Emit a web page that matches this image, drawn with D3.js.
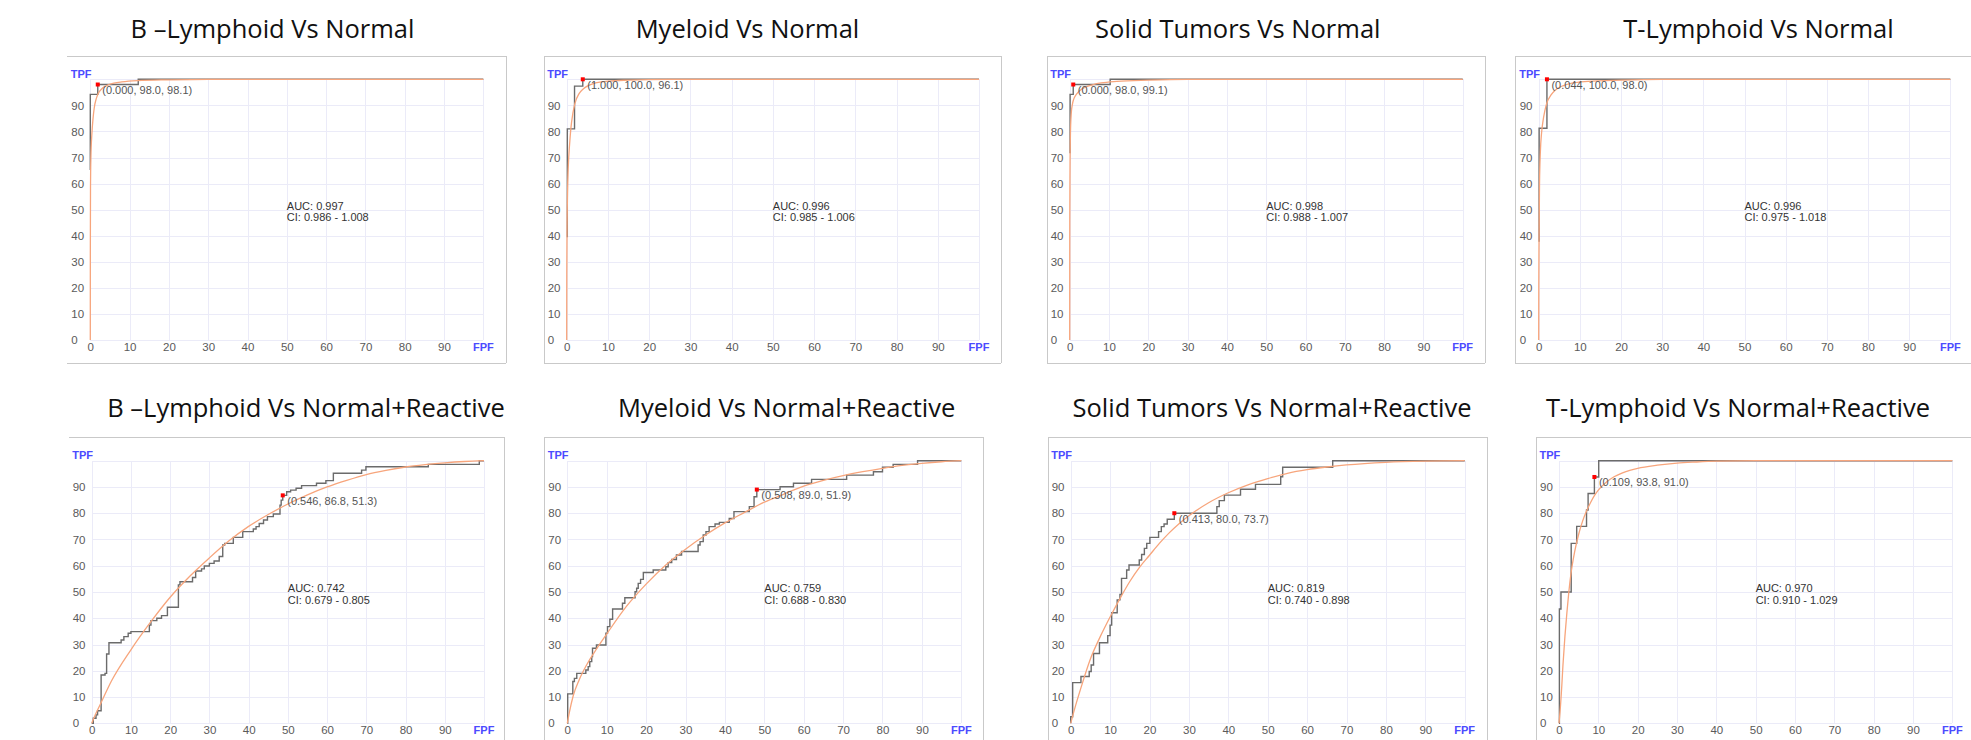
<!DOCTYPE html>
<html>
<head>
<meta charset="utf-8">
<script src="https://cdn.jsdelivr.net/npm/d3@7"></script>
<style>
  html, body { margin: 0; padding: 0; background: #fff; }
  svg { display: block; }
</style>
</head>
<body>
<svg id="chart" width="1971" height="740"></svg>
<script>
// ---------------- DATA ----------------
const titles = [
  "B \u2013Lymphoid Vs Normal", "Myeloid Vs Normal", "Solid Tumors Vs Normal", "T-Lymphoid Vs Normal",
  "B \u2013Lymphoid Vs Normal+Reactive", "Myeloid Vs Normal+Reactive", "Solid Tumors Vs Normal+Reactive", "T-Lymphoid Vs Normal+Reactive"
];
const aucLabels = ["AUC: 0.997", "AUC: 0.996", "AUC: 0.998", "AUC: 0.996", "AUC: 0.742", "AUC: 0.759", "AUC: 0.819", "AUC: 0.970"];
const ciLabels = ["CI: 0.986 - 1.008", "CI: 0.985 - 1.006", "CI: 0.988 - 1.007", "CI: 0.975 - 1.018",
                  "CI: 0.679 - 0.805", "CI: 0.688 - 0.830", "CI: 0.740 - 0.898", "CI: 0.910 - 1.029"];
const opPoints = [[1.9, 98.0], [3.9, 100.0], [0.9, 98.0], [2.0, 100.0], [48.7, 86.8], [48.1, 89.0], [26.3, 80.0], [9.0, 93.8]];
const opLabels = ["(0.000, 98.0, 98.1)", "(1.000, 100.0, 96.1)", "(0.000, 98.0, 99.1)", "(0.044, 100.0, 98.0)",
                  "(0.546, 86.8, 51.3)", "(0.508, 89.0, 51.9)", "(0.413, 80.0, 73.7)", "(0.109, 93.8, 91.0)"];
const xTickValues = [0, 10, 20, 30, 40, 50, 60, 70, 80, 90];
const yTickValues = [0, 10, 20, 30, 40, 50, 60, 70, 80, 90];
const axisLabelX = "FPF";
const axisLabelY = "TPF";

// empirical ROC (FPF, TPF) step points
const stepBNormal = [[0, 65.2], [0, 94.2], [1.9, 98.0], [12.2, 100], [100, 100]];
const stepMNormal = [[0.15, 39.4], [0.15, 81.0], [1.9, 97.4], [3.9, 100], [100, 100]];
const stepSNormal = [[0.1, 71.6], [0.1, 94.2], [0.9, 98.0], [10.3, 100], [100, 100]];
const stepTNormal = [[0.1, 37.7], [0.1, 81.2], [2.0, 100], [100, 100]];
const stepBReactive = [[0, 0], [0.4, 1.9], [1.1, 3.2], [1.5, 4.8], [2.4, 18.4], [3.4, 19.0], [3.8, 26.4], [4.4, 30.7],
  [7.5, 31.7], [8.2, 33.0], [9.3, 34.3], [10.0, 34.9], [14.7, 37.4], [15.1, 39.1], [16.6, 40.0], [17.8, 41.0],
  [19.3, 44.2], [22.1, 52.7], [22.5, 53.9], [25.7, 55.5], [26.5, 58.0], [28.0, 58.8], [28.7, 59.9], [30.0, 60.9],
  [31.2, 61.8], [32.5, 63.5], [33.4, 67.9], [33.9, 68.5], [36.1, 70.8], [38.5, 73.0], [41.2, 74.0], [41.9, 74.9],
  [42.7, 76.1], [43.8, 77.4], [44.8, 78.7], [46.3, 79.7], [48.0, 83.1], [48.3, 85.0], [48.7, 86.8], [49.7, 88.2],
  [50.7, 88.8], [52.1, 89.5], [53.5, 90.5], [57.3, 91.4], [59.7, 92.4], [61.6, 95.2], [68.8, 96.4], [69.9, 97.7],
  [85.8, 98.6], [98.8, 100], [100, 100]];
const stepMReactive = [[0, 0], [0.1, 11.2], [1.4, 15.9], [1.8, 17.1], [2.4, 19.0], [4.7, 20.3], [5.3, 21.6], [5.7, 23.5],
  [6.2, 25.4], [6.4, 28.6], [7.4, 29.8], [9.8, 34.3], [10.2, 36.8], [10.8, 39.6], [11.5, 43.5], [14.0, 45.7],
  [14.6, 47.8], [17.2, 50.1], [17.6, 51.4], [18.0, 53.3], [18.6, 54.8], [19.3, 57.4], [21.8, 58.4], [25.0, 59.6],
  [25.6, 61.2], [26.5, 62.4], [27.7, 64.1], [29.0, 65.4], [33.2, 67.9], [33.7, 69.2], [34.5, 71.7], [35.2, 73.0],
  [36.0, 74.9], [37.5, 75.9], [38.6, 76.5], [41.1, 78.0], [42.3, 80.6], [46.2, 82.5], [47.4, 86.3], [48.1, 89.0],
  [54.0, 90.1], [57.4, 91.4], [62.0, 92.9], [70.9, 94.5], [77.7, 95.8], [80.0, 97.5], [82.7, 98.6], [88.9, 100], [100, 100]];
const stepSReactive = [[0, 0], [0, 2.5], [0.5, 15.5], [2.6, 17.8], [4.7, 19.7], [5.2, 22.2], [5.8, 26.6], [7.3, 30.7],
  [9.4, 33.4], [10.0, 37.4], [10.4, 42.1], [11.8, 47.0], [12.5, 49.1], [12.9, 55.2], [14.2, 58.4], [14.8, 60.3],
  [17.4, 62.2], [18.0, 64.3], [18.7, 66.6], [19.3, 68.5], [20.1, 70.8], [22.3, 73.0], [23.0, 74.9], [23.7, 75.9],
  [24.5, 77.7], [26.3, 80.0], [37.1, 82.5], [37.7, 84.8], [39.0, 86.9], [43.1, 89.1], [46.9, 91.0], [53.3, 93.9],
  [53.8, 97.5], [66.5, 100], [100, 100]];
const stepTReactive = [[0, 0], [0.1, 43.5], [0.5, 50.0], [3.1, 68.5], [4.5, 75.0], [7.0, 81.2], [7.4, 87.5], [9.0, 93.8],
  [10.1, 100], [100, 100]];

// fitted (smooth) ROC curves
const fitBNormal = [[0, 0], [0.01, 35], [0.05, 58], [0.15, 70], [0.4, 79], [0.7, 85], [1, 89], [1.5, 92.5], [2, 94.5],
  [3, 96.5], [4, 97.5], [6, 98.5], [8, 99], [12, 99.5], [20, 99.8], [30, 100], [100, 100]];
const fitMNormal = [[0, 0], [0.02, 25], [0.08, 42], [0.2, 56], [0.4, 67], [0.7, 75], [1, 81], [1.5, 87], [2, 90.8],
  [3, 94.5], [4, 96.3], [5, 97.4], [7, 98.6], [10, 99.3], [15, 99.7], [25, 100], [100, 100]];
const fitSNormal = [[0, 0], [0.02, 45], [0.08, 65], [0.2, 80], [0.4, 87], [0.7, 90.5], [1, 92.3], [1.5, 93.8], [2, 94.8],
  [3, 96.2], [4, 97], [6, 98], [8, 98.6], [12, 99.2], [20, 99.7], [30, 100], [100, 100]];
const fitTNormal = [[0, 0], [0.02, 20], [0.08, 38], [0.2, 60], [0.4, 72], [0.7, 79.5], [1, 83.5], [1.5, 88], [2, 91],
  [3, 94], [4, 95.8], [6, 97.6], [8, 98.5], [12, 99.2], [20, 99.7], [30, 100], [100, 100]];
const fitBReactive = [[0, 0], [1, 3.5], [2.5, 8.2], [5, 16], [10, 28], [15, 38.5], [20, 48], [25, 56], [30, 63],
  [35, 69.5], [40, 75], [45, 79.5], [50, 83.5], [55, 87], [60, 90], [65, 92.5], [70, 94.7], [75, 96.3], [80, 97.6],
  [85, 98.5], [90, 99.2], [95, 99.7], [100, 100]];
const fitMReactive = [[0, 0], [0.5, 4], [1.5, 10.5], [3, 16.5], [5, 22.5], [7.5, 28.5], [10, 34], [15, 44.5], [20, 53],
  [25, 60.3], [30, 66.3], [35, 71.6], [40, 76.3], [45, 80.3], [50, 84.2], [55, 87.3], [60, 90.3], [65, 92.5],
  [70, 94.3], [75, 95.8], [80, 97.1], [85, 98.2], [90, 99], [95, 99.6], [100, 100]];
const fitSReactive = [[0, 0], [1, 5.5], [2.5, 13], [5, 24.5], [7.5, 33], [10, 40.5], [12.5, 47.5], [15, 54], [17.5, 59.5],
  [20, 64], [22.5, 68.5], [25, 72.5], [27.5, 76], [30, 79], [35, 84], [40, 87.8], [45, 90.8], [50, 93.2], [55, 95.2],
  [60, 96.6], [65, 97.6], [70, 98.4], [80, 99.4], [90, 99.85], [100, 100]];
const fitTReactive = [[0, 0], [0.3, 5], [0.7, 14], [1, 22], [1.5, 33], [2, 42], [2.5, 50], [3, 56.5], [4, 65.5], [5, 72],
  [6, 77], [7, 80.8], [8, 84], [9, 86.7], [10, 88.8], [12, 91.8], [14, 93.9], [16, 95.3], [18, 96.3], [20, 97.1],
  [25, 98.3], [30, 99.1], [35, 99.5], [40, 99.8], [50, 100], [100, 100]];

const stepSeries = [stepBNormal, stepMNormal, stepSNormal, stepTNormal, stepBReactive, stepMReactive, stepSReactive, stepTReactive];
const fitSeries = [fitBNormal, fitMNormal, fitSNormal, fitTNormal, fitBReactive, fitMReactive, fitSReactive, fitTReactive];

// ---------------- LAYOUT (positions, not data) ----------------
const TOP = {by0: 55.5, by1: 363, py0: 79.3, py1: 340, titleY: 38.3};
const BOT = {by0: 437.3, by1: 770, py0: 460.7, py1: 723.3, titleY: 416.7};
const layout = [
  Object.assign({bx0: 67, bx1: 506, lb: false, rb: true, px0: 90.3, px1: 483.3, tx: 272.5}, TOP),
  Object.assign({bx0: 543.7, bx1: 1001, lb: true, rb: true, px0: 566.7, px1: 979, tx: 747.5}, TOP),
  Object.assign({bx0: 1046.7, bx1: 1485.3, lb: true, rb: true, px0: 1069.7, px1: 1462.7, tx: 1237.8}, TOP),
  Object.assign({bx0: 1515.3, bx1: 1990, lb: true, rb: false, px0: 1538.7, px1: 1950.3, tx: 1758.5}, TOP),
  Object.assign({bx0: 69, bx1: 504, lb: false, rb: true, px0: 91.7, px1: 484, tx: 306}, BOT),
  Object.assign({bx0: 544.3, bx1: 983.3, lb: true, rb: true, px0: 567.3, px1: 961.3, tx: 786.7}, BOT),
  Object.assign({bx0: 1048.3, bx1: 1487.3, lb: true, rb: true, px0: 1070.7, px1: 1464.7, tx: 1272}, BOT),
  Object.assign({bx0: 1536, bx1: 1990, lb: true, rb: false, px0: 1559, px1: 1952.3, tx: 1738}, BOT)
];

const svg = d3.select("#chart");
const tickFont = "'Liberation Sans', Arial, sans-serif";

layout.forEach((L, i) => {
  const g = svg.append("g");

  // title
  g.append("text")
    .attr("x", L.tx).attr("y", L.titleY)
    .attr("text-anchor", "middle")
    .attr("font-family", "'Open Sans', sans-serif")
    .attr("font-size", 25.5)
    .attr("fill", "#111")
    .text(titles[i]);

  // frame
  const frame = g.append("g").attr("stroke", "#c9c9c9").attr("stroke-width", 1).attr("fill", "none")
    .attr("shape-rendering", "crispEdges");
  const r = v => Math.round(v) + 0.5;
  frame.append("line").attr("x1", L.bx0).attr("x2", L.bx1).attr("y1", r(L.by0)).attr("y2", r(L.by0));
  frame.append("line").attr("x1", L.bx0).attr("x2", L.bx1).attr("y1", r(L.by1)).attr("y2", r(L.by1));
  if (L.lb) frame.append("line").attr("x1", r(L.bx0)).attr("x2", r(L.bx0)).attr("y1", L.by0).attr("y2", L.by1);
  if (L.rb) frame.append("line").attr("x1", r(L.bx1)).attr("x2", r(L.bx1)).attr("y1", L.by0).attr("y2", L.by1);

  const x = d3.scaleLinear().domain([0, 100]).range([L.px0, L.px1]);
  const y = d3.scaleLinear().domain([0, 100]).range([L.py1, L.py0]);

  // grid
  const gridVals = d3.range(0, 101, 10);
  const grid = g.append("g").attr("stroke", "#ebebf8").attr("stroke-width", 1).attr("shape-rendering", "crispEdges");
  grid.selectAll("line.v").data(gridVals).join("line")
    .attr("x1", d => r(x(d))).attr("x2", d => r(x(d))).attr("y1", y(0)).attr("y2", y(100));
  grid.selectAll("line.h").data(gridVals).join("line")
    .attr("y1", d => r(y(d))).attr("y2", d => r(y(d))).attr("x1", x(0)).attr("x2", x(100));

  // y axis labels
  const ya = g.append("g").attr("transform", `translate(${L.px0},0)`)
    .call(d3.axisLeft(y).tickValues(yTickValues).tickSize(0).tickFormat(d3.format("d")));
  ya.select(".domain").remove();
  ya.selectAll("text").attr("x", -19).attr("text-anchor", "start")
    .attr("font-family", tickFont).attr("font-size", 11.5).attr("fill", "#5a5a5a");

  // x axis labels
  const xa = g.append("g").attr("transform", `translate(0,${L.py1})`)
    .call(d3.axisBottom(x).tickValues(xTickValues).tickSize(0).tickFormat(d3.format("d")));
  xa.select(".domain").remove();
  xa.selectAll("text").attr("y", 11).attr("dy", 0)
    .attr("font-family", tickFont).attr("font-size", 11.5).attr("fill", "#5a5a5a");

  // axis names
  g.append("text").attr("x", x(100)).attr("y", y(0) + 11).attr("text-anchor", "middle")
    .attr("font-family", tickFont).attr("font-size", 11).attr("font-weight", "bold").attr("fill", "#4b4bff").text(axisLabelX);
  g.append("text").attr("x", L.px0 - 19.5).attr("y", y(100) - 1.5).attr("text-anchor", "start")
    .attr("font-family", tickFont).attr("font-size", 11).attr("font-weight", "bold").attr("fill", "#4b4bff").text(axisLabelY);

  // empirical step curve
  const stepLine = d3.line().x(d => x(d[0])).y(d => y(d[1])).curve(d3.curveStepAfter);
  g.append("path").datum(stepSeries[i])
    .attr("d", stepLine).attr("fill", "none").attr("stroke", "#6b6b6b").attr("stroke-width", 1.4);

  // fitted smooth curve
  const fitLine = d3.line().x(d => x(d[0])).y(d => y(d[1])).curve(d3.curveMonotoneX);
  g.append("path").datum(fitSeries[i])
    .attr("d", fitLine).attr("fill", "none").attr("stroke", "#f7a57c").attr("stroke-width", 1.3);

  // AUC / CI
  g.append("text").attr("x", x(50)).attr("y", y(50))
    .attr("font-family", tickFont).attr("font-size", 11).attr("fill", "#333").text(aucLabels[i]);
  g.append("text").attr("x", x(50)).attr("y", y(50) + 11.5)
    .attr("font-family", tickFont).attr("font-size", 11).attr("fill", "#333").text(ciLabels[i]);

  // operating point
  const op = opPoints[i];
  g.append("rect").attr("x", x(op[0]) - 2).attr("y", y(op[1]) - 2).attr("width", 4).attr("height", 4).attr("fill", "#ff0000");
  g.append("text").attr("x", x(op[0]) + 4.5).attr("y", y(op[1]) + 9.5)
    .attr("font-family", tickFont).attr("font-size", 11).attr("fill", "#555").text(opLabels[i]);
});
</script>
</body>
</html>
